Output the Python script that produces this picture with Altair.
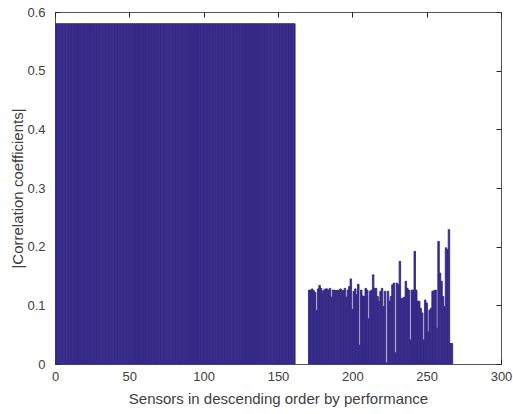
import altair as alt
import pandas as pd

# ---- data ----
left_sensors = list(range(1, 162))
left_values = [0.58] * 161

right_first_sensor = 171
right_values = [
    0.126, 0.126, 0.128, 0.125, 0.122, 0.091, 0.128, 0.134, 0.129, 0.124,
    0.126, 0.128, 0.128, 0.126, 0.129, 0.114, 0.126, 0.126, 0.125, 0.126,
    0.125, 0.128, 0.126, 0.125, 0.129, 0.114, 0.126, 0.132, 0.145, 0.093,
    0.124, 0.128, 0.118, 0.136, 0.032, 0.126, 0.116, 0.115, 0.129, 0.126,
    0.077, 0.124, 0.126, 0.152, 0.129, 0.129, 0.115, 0.107, 0.124, 0.129,
    0.098, 0.124, 0.002, 0.124, 0.107, 0.115, 0.135, 0.138, 0.019, 0.138,
    0.135, 0.175, 0.112, 0.112, 0.114, 0.141, 0.129, 0.126, 0.041, 0.126,
    0.126, 0.192, 0.126, 0.107, 0.107, 0.095, 0.087, 0.041, 0.109, 0.104,
    0.055, 0.092, 0.095, 0.124, 0.125, 0.126, 0.061, 0.209, 0.155, 0.141,
    0.115, 0.098, 0.198, 0.195, 0.229, 0.035, 0.035,
]
right_sensors = list(range(right_first_sensor, right_first_sensor + len(right_values)))

x_ticks = [0, 50, 100, 150, 200, 250, 300]
y_ticks = [0, 0.1, 0.2, 0.3, 0.4, 0.5, 0.6]

df = pd.DataFrame({
    "sensor": left_sensors + right_sensors,
    "value": left_values + right_values,
})

BAR = "#352A87"
FONT = "Liberation Sans"
TXT = "#404040"

x_scale = alt.Scale(domain=[0, 300], nice=False, zero=False)
y_scale = alt.Scale(domain=[0, 0.6], nice=False)

common = dict(domain=False, grid=False, tickSize=5, tickColor="#262626",
              tickWidth=1, offset=-5, labelFont=FONT, labelFontSize=13,
              labelColor=TXT, titleFont=FONT, titleFontSize=15,
              titleColor=TXT, titleFontWeight="normal", labelFlush=False)

x_axis = alt.Axis(orient="bottom", values=x_ticks, format="d",
                  title="Sensors in descending order by performance",
                  labelPadding=6, titlePadding=8, **common)
y_axis = alt.Axis(orient="left", values=y_ticks, format="~g",
                  title="|Correlation coefficients|",
                  labelPadding=10, titlePadding=1, **common)
x_axis_top = alt.Axis(orient="top", values=x_ticks, labels=False, title=None, **common)
y_axis_right = alt.Axis(orient="right", values=y_ticks, labels=False, title=None, **common)

base = alt.Chart(df).transform_calculate(
    x0="datum.sensor - 0.5", x1="datum.sensor + 0.5"
)

bars = base.mark_rect(color=BAR, stroke=BAR, strokeWidth=0.9).encode(
    x=alt.X("x0:Q", scale=x_scale, axis=x_axis),
    x2="x1:Q",
    y=alt.Y("value:Q", scale=y_scale, axis=y_axis),
    y2=alt.datum(0),
)

ghost = base.mark_rect(opacity=0).encode(
    x=alt.X("x0:Q", scale=x_scale, axis=x_axis_top),
    x2="x1:Q",
    y=alt.Y("value:Q", scale=y_scale, axis=y_axis_right),
    y2=alt.datum(0),
)

chart = alt.layer(bars, ghost).resolve_axis(
    x="independent", y="independent"
).properties(
    width=446, height=352,
    autosize=alt.AutoSizeParams(type="none"),
    padding={"left": 55, "top": 12, "right": 12, "bottom": 50},
    background="white",
).configure_view(stroke="#555555", strokeWidth=1)

chart.save("out.html", embed_options={"renderer": "svg", "actions": False})
